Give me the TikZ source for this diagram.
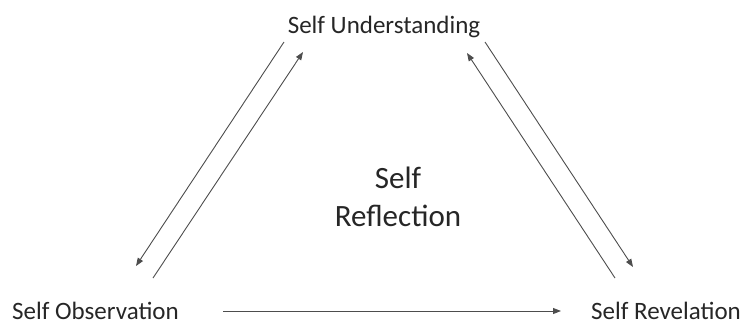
\documentclass[tikz,border=0pt]{standalone}
\usepackage{fontspec}
\setmainfont{Carlito}
\usepackage{xcolor}
\usepackage{tikz}
\usetikzlibrary{arrows.meta,positioning}
\definecolor{inkgray}{HTML}{262626}
\definecolor{linkgray}{HTML}{4D4D4D}

\begin{document}
\begin{tikzpicture}[x=1pt,y=-1pt,
    stage/.style={text=inkgray,inner sep=0pt,font=\fontsize{25}{30}\selectfont},
    link/.style={draw=linkgray,line width=0.9pt,-{Triangle[length=8pt,width=6pt]}}
  ]
  \useasboundingbox (0,0) rectangle (741,325);
  % labels
  \node[stage,anchor=base] (understanding) at (384,33) {Self Understanding};
  \node[stage,anchor=base west] (observation) at (12,319) {Self Observation};
  \node[stage,anchor=base west] (revelation) at (591,319) {Self Revelation};
  \node[text=inkgray,inner sep=0pt,align=center,
        font=\fontsize{31}{38}\selectfont] (reflection) at (398,197) {Self\\Reflection};
  % end points of the connectors
  \coordinate (uL1) at (284,42);  \coordinate (oL1) at (136,266);
  \coordinate (oL2) at (153,278); \coordinate (uL2) at (303,52);
  \coordinate (rR1) at (615,278); \coordinate (uR1) at (467,53);
  \coordinate (uR2) at (485,42);  \coordinate (rR2) at (633,267);
  \coordinate (oB) at (223,311);  \coordinate (rB) at (561,311);
  % connectors
  \draw[link] (uL1) -- (oL1);
  \draw[link] (oL2) -- (uL2);
  \draw[link] (rR1) -- (uR1);
  \draw[link] (uR2) -- (rR2);
  \draw[link] (oB) -- (rB);
\end{tikzpicture}
\end{document}
